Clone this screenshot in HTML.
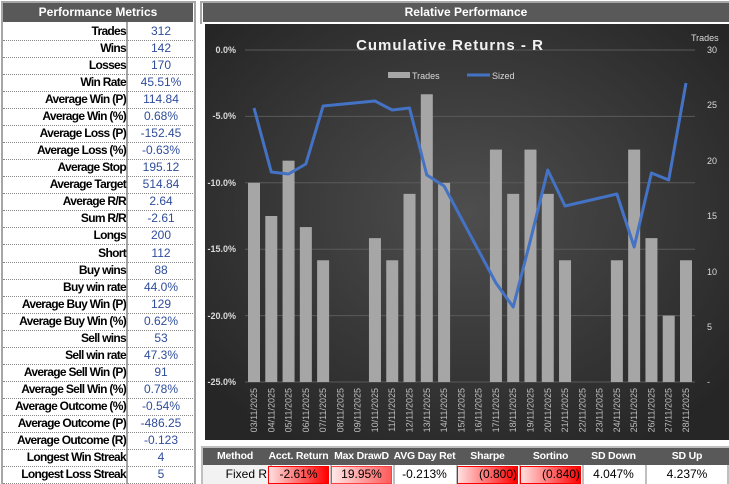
<!DOCTYPE html>
<html><head><meta charset="utf-8"><style>
body{margin:0;width:729px;height:484px;background:#fff;font-family:"Liberation Sans",sans-serif;position:relative;overflow:hidden}
.a{position:absolute;box-sizing:border-box}
.hd{background:#595959;color:#fff;font-weight:bold;font-size:12px;text-align:center;line-height:19px}
.row{position:absolute;left:3px;width:190px;height:17px;border-bottom:1px dotted #888;font-size:12px;line-height:17px;white-space:nowrap}
.row .l{position:absolute;left:0;width:123px;text-align:right;font-weight:bold;color:#000;letter-spacing:-0.7px}
.row .v{position:absolute;left:126px;width:64px;text-align:center;color:#2f4d9a}
.bt{position:absolute;top:448px;height:17px;background:#595959;color:#fff;font-weight:bold;font-size:10.5px;text-align:center;line-height:17px;border-right:2px solid #bfbfbf;white-space:nowrap;overflow:hidden;letter-spacing:-0.2px}
.bc{position:absolute;top:465px;height:19px;font-size:12px;text-align:center;line-height:19px;color:#000;border-right:2px solid #bfbfbf;white-space:nowrap}
.red{background:linear-gradient(90deg,#ffe0e0,#ff0000);border:1px solid #ff0000;margin:1px;height:16px;line-height:15px}
.pink{background:linear-gradient(90deg,#ffe8e8,#ff5a5a);border:1px solid #ff4040;margin:1px;height:16px;line-height:15px}
</style></head><body>
<div class="a" style="left:1px;top:1px;width:195px;height:483px;border:2px solid #a6a6a6;border-bottom:none"></div>
<div class="a hd" style="left:3px;top:3px;width:190px;height:19px">Performance Metrics</div>
<div class="a" style="left:126px;top:22px;width:2px;height:462px;background:#a6a6a6"></div>
<div id="rows"></div>
<div class="a" style="left:200px;top:1px;width:529px;height:23px;border:2px solid #a6a6a6;border-bottom:none;border-right:none"></div>
<div class="a hd" style="left:203px;top:3px;width:526px;height:19px">Relative Performance</div>
<svg class="a" style="left:205px;top:24px" width="524" height="416" viewBox="205 24 524 416">
<defs><radialGradient id="g" cx="0.5" cy="0.45" r="0.65"><stop offset="0" stop-color="#4e4e4e"/><stop offset="1" stop-color="#262626"/></radialGradient></defs>
<rect x="205" y="24" width="524" height="416" fill="url(#g)"/>
<g stroke="#5a5a5a" stroke-width="1">
<line x1="245" x2="695" y1="50" y2="50"/><line x1="245" x2="695" y1="116.4" y2="116.4"/><line x1="245" x2="695" y1="182.8" y2="182.8"/><line x1="245" x2="695" y1="249.2" y2="249.2"/><line x1="245" x2="695" y1="315.6" y2="315.6"/><line x1="245" x2="695" y1="382" y2="382"/></g>
<g font-size="9" fill="#d9d9d9" font-weight="bold" text-anchor="end">
<text x="236" y="53">0.0%</text><text x="236" y="119">-5.0%</text><text x="236" y="186">-10.0%</text><text x="236" y="252">-15.0%</text><text x="236" y="319">-20.0%</text><text x="236" y="385">-25.0%</text></g>
<g font-size="9" fill="#d9d9d9" text-anchor="start">
<text x="707" y="53">30</text><text x="707" y="108">25</text><text x="707" y="164">20</text><text x="707" y="219">15</text><text x="707" y="275">10</text><text x="707" y="330">5</text><text x="707" y="385">-</text>
<text x="691" y="41">Trades</text></g>
<text x="450" y="50" font-size="15" font-weight="bold" fill="#f2f2f2" text-anchor="middle" letter-spacing="1">Cumulative Returns - R</text>
<rect x="388" y="72" width="22" height="6" fill="#a6a6a6"/><text x="412" y="79" font-size="9" fill="#d9d9d9">Trades</text>
<line x1="467" x2="490" y1="75" y2="75" stroke="#4472c4" stroke-width="3"/><text x="492" y="79" font-size="9" fill="#d9d9d9">Sized</text>
<g id="bars" fill="#a6a6a6"></g>
<polyline id="ln" fill="none" stroke="#4472c4" stroke-width="3" stroke-linejoin="round"/>
<g id="xl" font-size="9" fill="#bfbfbf"></g>
</svg>
<div class="a" style="left:201px;top:446px;width:528px;height:38px;border:2px solid #bfbfbf;border-bottom:none"></div>
<div class="bt" style="left:203px;width:64px">Method</div>
<div class="bt" style="left:267px;width:63px">Acct. Return</div>
<div class="bt" style="left:330px;width:63px">Max DrawD</div>
<div class="bt" style="left:393px;width:63px">AVG Day Ret</div>
<div class="bt" style="left:456px;width:63px">Sharpe</div>
<div class="bt" style="left:519px;width:63px">Sortino</div>
<div class="bt" style="left:582px;width:63px">SD Down</div>
<div class="bt" style="left:645px;width:84px;border-right:none">SD Up</div>
<div class="bc" style="left:203px;width:64px;background:#f2f2f2;text-align:right;padding-right:3px">Fixed R</div>
<div class="bc" style="left:267px;width:63px"><div class="red">-2.61%</div></div>
<div class="bc" style="left:330px;width:63px"><div class="pink">19.95%</div></div>
<div class="bc" style="left:393px;width:63px">-0.213%</div>
<div class="bc" style="left:456px;width:63px"><div class="red" style="text-align:right">(0.800)</div></div>
<div class="bc" style="left:519px;width:63px"><div class="red" style="text-align:right">(0.840)</div></div>
<div class="bc" style="left:582px;width:63px">4.047%</div>
<div class="bc" style="left:645px;width:84px;border-right:none">4.237%</div>
<script>
var R=[["Trades","312"],["Wins","142"],["Losses","170"],["Win Rate","45.51%"],["Average Win (P)","114.84"],["Average Win (%)","0.68%"],["Average Loss (P)","-152.45"],["Average Loss (%)","-0.63%"],["Average Stop","195.12"],["Average Target","514.84"],["Average R/R","2.64"],["Sum R/R","-2.61"],["Longs","200"],["Short","112"],["Buy wins","88"],["Buy win rate","44.0%"],["Average Buy Win (P)","129"],["Average Buy Win (%)","0.62%"],["Sell wins","53"],["Sell win rate","47.3%"],["Average Sell Win (P)","91"],["Average Sell Win (%)","0.78%"],["Average Outcome (%)","-0.54%"],["Average Outcome (P)","-486.25"],["Average Outcome (R)","-0.123"],["Longest Win Streak","4"],["Longest Loss Streak","5"]];
var h="";R.forEach(function(r,i){h+='<div class="row" style="top:'+(23+i*17.04)+'px"><span class="l">'+r[0]+'</span><span class="v">'+r[1]+'</span></div>';});
document.getElementById("rows").innerHTML=h;
var T=[18,15,20,14,11,0,0,13,11,17,26,18,0,0,21,17,21,17,11,0,0,11,21,13,6,11];
var L={0:108,1:172,2:174,3:164,4:106,7:101,8:110,9:108,10:175,11:186,14:283,15:307,16:240,17:170,18:206,21:194,22:247,23:173,24:180,25:83};
var NS="http://www.w3.org/2000/svg",b=document.getElementById("bars"),xl=document.getElementById("xl"),pts=[];
for(var i=0;i<26;i++){var x=254+i*17.28;
if(T[i]){var r=document.createElementNS(NS,"rect");var y=382-T[i]*11.067;r.setAttribute("x",x-6);r.setAttribute("y",y);r.setAttribute("width",12);r.setAttribute("height",382-y);b.appendChild(r);}
if(L[i]!==undefined)pts.push(x+","+L[i]);
var t=document.createElementNS(NS,"text");var d=(i+3<10?"0":"")+(i+3)+"/11/2025";t.textContent=d;t.setAttribute("transform","translate("+(x+3)+",388) rotate(-90)");t.setAttribute("text-anchor","end");xl.appendChild(t);}
document.getElementById("ln").setAttribute("points",pts.join(" "));
</script>
</body></html>
